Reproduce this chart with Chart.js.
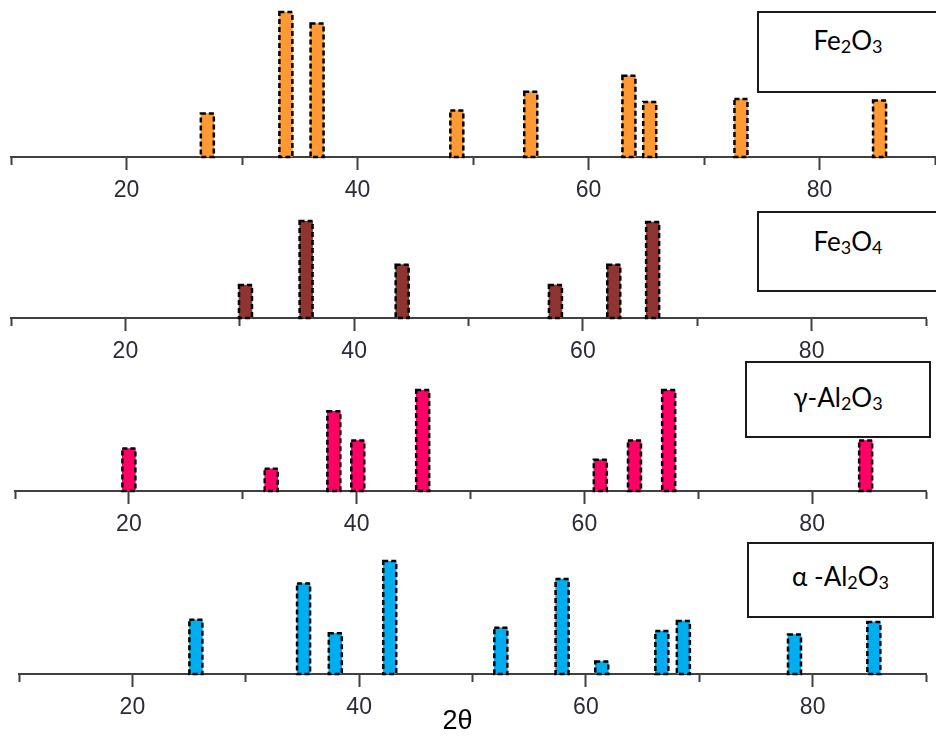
<!DOCTYPE html>
<html>
<head>
<meta charset="utf-8">
<script src="https://cdn.jsdelivr.net/npm/chart.js@4"></script>
<style>
  body { margin: 0; background: #fff; }
  #page { position: relative; width: 936px; height: 742px; overflow: hidden; }
  .panel { position: absolute; left: 0; width: 936px; }
  .box {
    position: absolute; border: 2px solid #1a1a1a; background: #fff;
    font-family: Lato, "Open Sans", sans-serif; font-size: 26px; color: #000;
    box-sizing: border-box; text-align: center;
  }
  .box sub { font-size: 18px; vertical-align: -3px; line-height: 0; }
  #xtitle {
    position: absolute; left: 420px; top: 705px; width: 75px; text-align: center;
    font-family: "Liberation Sans", Arial, sans-serif; font-size: 27px; color: #000;
  }
</style>
</head>
<body>
<div id="page">
  <div class="panel" style="top:0;height:205px"><canvas id="c1"></canvas></div>
  <div class="panel" style="top:205px;height:161px"><canvas id="c2"></canvas></div>
  <div class="panel" style="top:366px;height:173px"><canvas id="c3"></canvas></div>
  <div class="panel" style="top:539px;height:183px"><canvas id="c4"></canvas></div>

  <div class="box" style="left:757px;top:11px;width:182px;height:82px;padding-top:11px">Fe<sub>2</sub>O<sub>3</sub></div>
  <div class="box" style="left:757px;top:211px;width:182px;height:81px;padding-top:12px">Fe<sub>3</sub>O<sub>4</sub></div>
  <div class="box" style="left:745px;top:361px;width:186px;height:77px;padding-top:18px">γ-Al<sub>2</sub>O<sub>3</sub></div>
  <div class="box" style="left:747px;top:542px;width:187px;height:76px;padding-top:16px">α -Al<sub>2</sub>O<sub>3</sub></div>
  <div id="xtitle">2θ</div>
</div>
<script>
// 2θ positions (degrees) and relative intensities (max = 100) per phase
const fe2o3Pos = [27.0, 33.8, 36.5, 48.6, 55.0, 63.5, 65.3, 73.2, 85.2];
const fe2o3Int = [30, 100, 92, 32, 45, 56, 38, 40, 39];

const fe3o4Pos = [30.5, 35.8, 44.2, 57.6, 62.7, 66.1];
const fe3o4Int = [34, 100, 55, 34, 55, 99];

const gammaPos = [20.0, 32.5, 38.0, 40.1, 45.8, 61.4, 64.4, 67.4, 84.7];
const gammaInt = [42, 22, 79, 50, 100, 31, 50, 100, 50];

const alphaPos = [25.6, 35.1, 37.9, 42.7, 52.5, 57.9, 61.4, 66.7, 68.6, 78.4, 85.4];
const alphaInt = [48, 80, 36, 100, 41, 84, 11, 38, 47, 35, 46];

const xMin = 10, xMax = 90, xStep = 10;
const labelledTicks = [20, 40, 60, 80];

// bars have a dashed black outline, Chart.js has no borderDash for bars
const dashedBars = {
  id: 'dashedBars',
  afterDatasetsDraw(chart) {
    const ctx = chart.ctx;
    ctx.save();
    ctx.strokeStyle = '#000';
    ctx.lineWidth = 2.5;
    ctx.setLineDash([5, 3]);
    chart.getDatasetMeta(0).data.forEach(bar => {
      const p = bar.getProps(['x', 'y', 'base', 'width'], true);
      ctx.strokeRect(p.x - p.width / 2, p.y, p.width, p.base - p.y);
    });
    ctx.restore();
  }
};

function makePanel(id, pos, vals, color, pad) {
  const pts = pos.map((x, i) => ({ x: x, y: vals[i] }));
  new Chart(document.getElementById(id), {
    type: 'bar',
    data: {
      datasets: [{
        data: pts,
        backgroundColor: color,
        borderWidth: 0,
        barThickness: 13
      }]
    },
    options: {
      responsive: true,
      maintainAspectRatio: false,
      animation: false,
      layout: { padding: pad },
      plugins: { legend: { display: false }, tooltip: { enabled: false } },
      scales: {
        x: {
          type: 'linear',
          min: xMin,
          max: xMax,
          offset: false,
          afterFit: s => {
            s.height = 48;
            s.paddingLeft = 0;
            s.paddingRight = 0;
          },
          border: { color: '#404040', width: 2 },
          grid: {
            offset: false,
            drawOnChartArea: false,
            tickLength: 13,
            tickWidth: 2,
            tickColor: '#404040',
            tickBorderDash: c => labelledTicks.includes(c.tick.value) ? [] : [7, 40]
          },
          ticks: {
            stepSize: xStep,
            autoSkip: false,
            maxRotation: 0,
            padding: 7,
            color: '#2a2a38',
            font: { family: 'Liberation Sans', size: 23 },
            callback: v => labelledTicks.includes(v) ? String(v) : ''
          }
        },
        y: { display: false, min: 0, max: 100 }
      }
    },
    plugins: [dashedBars]
  });
}

makePanel('c1', fe2o3Pos, fe2o3Int, '#FF9933', { top: 12, left: 11, right: 1, bottom: 0 });
makePanel('c2', fe3o4Pos, fe3o4Int, '#8E3532', { top: 16, left: 11, right: 10, bottom: 0 });
makePanel('c3', gammaPos, gammaInt, '#FF0066', { top: 24, left: 15, right: 10, bottom: 0 });
makePanel('c4', alphaPos, alphaInt, '#00AEEF', { top: 22, left: 19, right: 10, bottom: 0 });
</script>
</body>
</html>
